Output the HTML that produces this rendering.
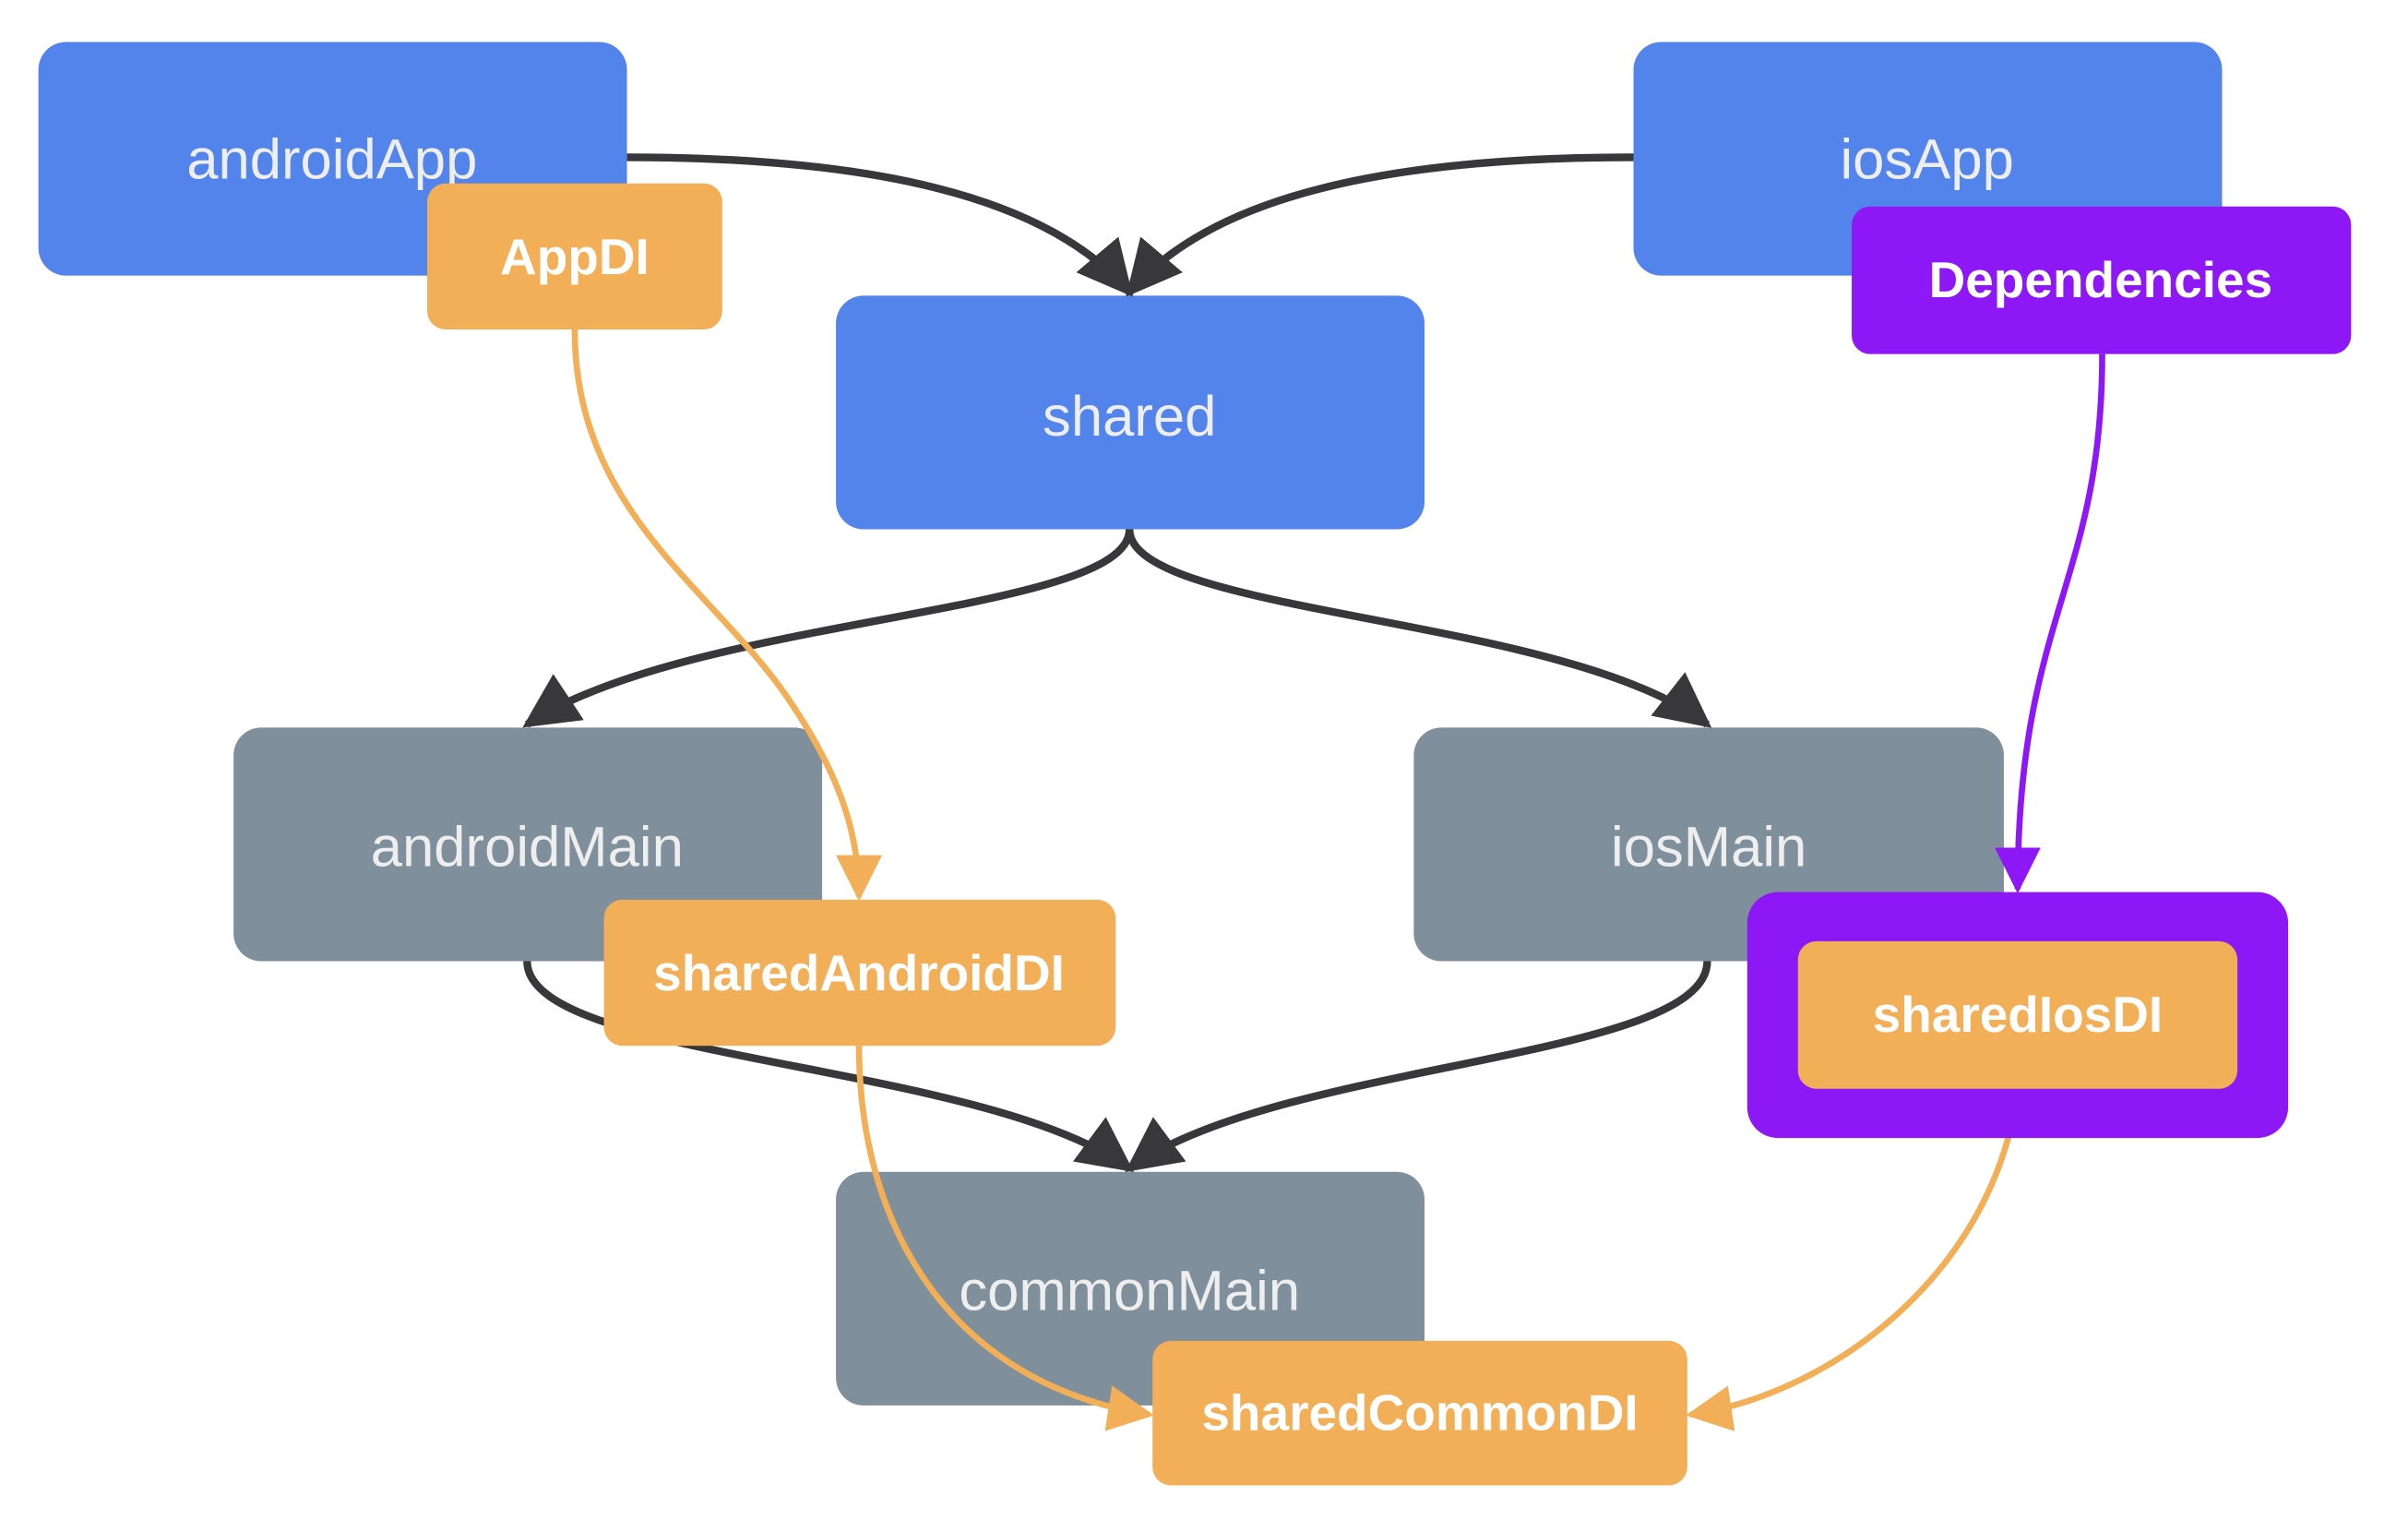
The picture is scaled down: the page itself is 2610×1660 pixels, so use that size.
<!DOCTYPE html>
<html><head><style>html,body{margin:0;padding:0;background:#fff}svg{display:block}</style></head><body>
<svg width="2610" height="1660" viewBox="0 0 1567 996" xmlns="http://www.w3.org/2000/svg" font-family="Liberation Sans, Arial, sans-serif">
<defs>
<marker id="ad" markerUnits="userSpaceOnUse" markerWidth="36" markerHeight="36" viewBox="0 0 20 20" refX="18" refY="10" orient="auto"><path d="M0,0 L20,10 L0,20 z" fill="#38383b"/></marker>
<marker id="ao" markerUnits="userSpaceOnUse" markerWidth="30" markerHeight="30" viewBox="0 0 20 20" refX="18" refY="10" orient="auto"><path d="M0,0 L20,10 L0,20 z" fill="#f2af57"/></marker>
<marker id="ap" markerUnits="userSpaceOnUse" markerWidth="30" markerHeight="30" viewBox="0 0 20 20" refX="18" refY="10" orient="auto"><path d="M0,0 L20,10 L0,20 z" fill="#8e18f5"/></marker>
</defs>
<g font-size="37" fill="#eeeeee" text-anchor="middle">
<rect x="25" y="27" width="383" height="152" rx="18" fill="#5384ec"/>
<rect x="1063" y="27" width="383" height="152" rx="18" fill="#5384ec"/>
<rect x="544" y="192" width="383" height="152" rx="18" fill="#5384ec"/>
<rect x="152" y="473" width="383" height="152" rx="18" fill="#7f8f9b"/>
<rect x="920" y="473" width="384" height="152" rx="18" fill="#7f8f9b"/>
<rect x="544" y="762" width="383" height="152" rx="18" fill="#7f8f9b"/>
<text x="216" y="116">androidApp</text>
<text x="1254" y="116">iosApp</text>
<text x="735" y="283">shared</text>
<text x="343" y="563">androidMain</text>
<text x="1112" y="563">iosMain</text>
<text x="735" y="852">commonMain</text>
</g>
<g fill="none" stroke="#38383b" stroke-width="5" marker-end="url(#ad)">
<path d="M408,102 C560,102 680,125 735,190"/>
<path d="M1063,102 C910,102 790,125 735,190"/>
<path d="M735,344 C735,400 450,400 343,471"/>
<path d="M735,344 C735,400 1020,400 1111,471"/>
<path d="M343,625 C343,690 640,690 735,760"/>
<path d="M1111,625 C1111,690 830,690 735,760"/>
</g>
<g fill="none" stroke-width="4">
<path d="M374,214 C374,330 460,380 510,450 C545,500 559,540 559,583" stroke="#f2af57" marker-end="url(#ao)"/>
<path d="M559,680 C559,800 620,900 748,920" stroke="#f2af57" marker-end="url(#ao)"/>
<path d="M1313,708 C1300,820 1200,905 1100,920" stroke="#f2af57" marker-end="url(#ao)"/>
<path d="M1368,230 C1368,380 1313,400 1313,578" stroke="#8e18f5" marker-end="url(#ap)"/>
</g>
<g font-size="33" font-weight="bold" fill="#ffffff" text-anchor="middle">
<rect x="278" y="119" width="192" height="95" rx="12" fill="#f2af57"/>
<text x="374" y="178">AppDI</text>
<rect x="1205" y="134" width="325" height="96" rx="12" fill="#8e18f5"/>
<text x="1367" y="193">Dependencies</text>
<rect x="393" y="585" width="333" height="95" rx="12" fill="#f2af57"/>
<text x="559" y="644">sharedAndroidDI</text>
<rect x="1137" y="580" width="352" height="160" rx="20" fill="#8e18f5"/>
<rect x="1170" y="612" width="286" height="96" rx="12" fill="#f2af57"/>
<text x="1313" y="671">sharedIosDI</text>
<rect x="750" y="872" width="348" height="94" rx="12" fill="#f2af57"/>
<text x="924" y="930">sharedCommonDI</text>
</g>
</svg>
</body></html>
